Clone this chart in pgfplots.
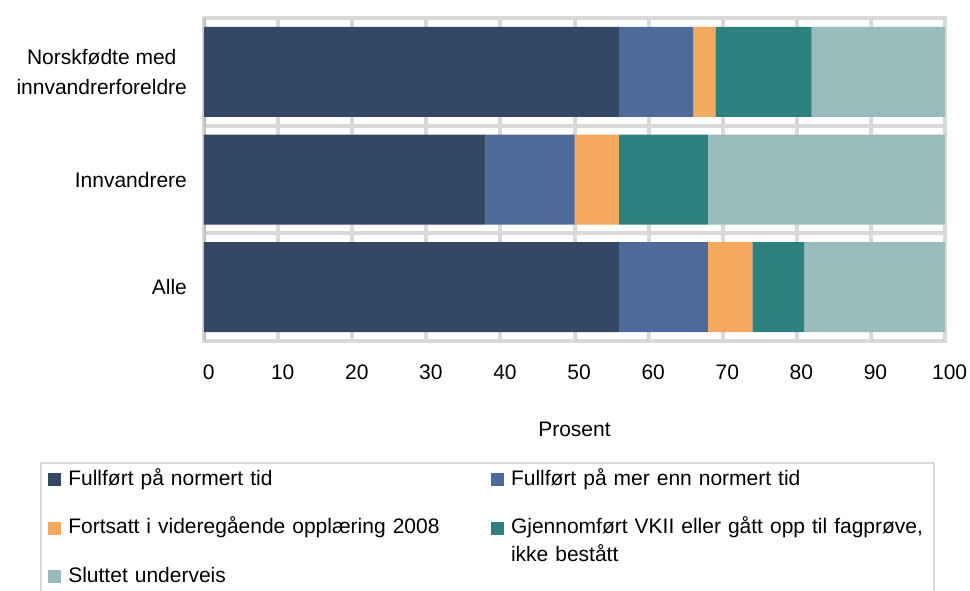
\documentclass[border=0pt]{standalone}
\usepackage{fontspec}
\setmainfont{Liberation Sans}
\usepackage{pgfplots}
\pgfplotsset{compat=1.18}

\definecolor{cFull}{HTML}{344767}
\definecolor{cMer}{HTML}{4D6A9B}
\definecolor{cFort}{HTML}{F5A95E}
\definecolor{cGjen}{HTML}{2D8280}
\definecolor{cSlutt}{HTML}{98BCBC}
\definecolor{cGrid}{HTML}{D9D9D9}
\definecolor{cAxis}{HTML}{BFBFBF}

\newcommand{\chartfont}{\fontsize{10.5}{14.7}\selectfont}

\begin{document}
\begin{tikzpicture}
\path[use as bounding box] (0pt,0pt) rectangle (485pt,-295pt);
\begin{axis}[
  at={(102pt,-9pt)}, anchor=north west,
  scale only axis, width=370.5pt, height=161.5pt,
  xbar stacked, bar width=45pt,
  xmin=0, xmax=100, xtick={0,10,...,100},
  ymin=-0.5, ymax=2.5, ytick={0,1,2},
  yticklabels={Alle,Innvandrere,{Norskfødte med\\innvandrerforeldre}},
  minor ytick={0.5,1.5},
  xmajorgrids, yminorgrids,
  grid style={cGrid, line width=2pt},
  minor grid style={cGrid, line width=2pt},
  axis line style={cGrid, line width=2pt},
  major tick length=0pt, minor tick length=0pt,
  tick label style={font=\chartfont},
  /pgf/number format/assume math mode=true,
  xticklabel style={anchor=base, yshift=-19.15pt, xshift=2.3pt},
  yticklabel style={align=center, xshift=-5pt},
  xlabel={Prosent},
  xlabel style={font=\chartfont, at={(axis description cs:0.5,0)},
    anchor=base, yshift=-47.85pt},
  every axis plot post/.append style={draw=none,
    legend image code/.code={\path[##1,draw=none] (0pt,-0.5pt) rectangle (6.5pt,6pt);}},
  legend columns=2,
  legend style={
    at={(axis description cs:-0.22132,-0.37461)}, anchor=north west,
    draw=cGrid, line width=1pt, fill=white,
    inner xsep=3.65pt, inner ysep=3.15pt,
    column sep=3.5pt, row sep=14.2pt,
    cells={anchor=base west},
    nodes={inner sep=0pt, text height=8pt, text depth=2pt,
      text width=207.85pt, align=left, font=\fontsize{10.5}{14}\selectfont},
    column 4/.style={nodes={text width=202.5pt}},
  },
]
% rows: 0 = Alle, 1 = Innvandrere, 2 = Norskfødte med innvandrerforeldre
\addplot[fill=cFull] coordinates {(56,0) (38,1) (56,2)};
\addlegendentry{Fullført på normert tid}
\addplot[fill=cMer] coordinates {(12,0) (12,1) (10,2)};
\addlegendentry{Fullført på mer enn normert tid}
\addplot[fill=cFort] coordinates {(6,0) (6,1) (3,2)};
\addlegendentry{Fortsatt i videregående opplæring 2008}
\addplot[fill=cGjen] coordinates {(7,0) (12,1) (13,2)};
\addlegendentry{Gjennomført VKII eller gått opp til fagprøve,\\ikke bestått}
\addplot[fill=cSlutt] coordinates {(19,0) (32,1) (18,2)};
\addlegendentry{Sluttet underveis}
\draw[cAxis, line width=2pt] (rel axis cs:0,0) -- (rel axis cs:0,1);
\end{axis}
\end{tikzpicture}
\end{document}
